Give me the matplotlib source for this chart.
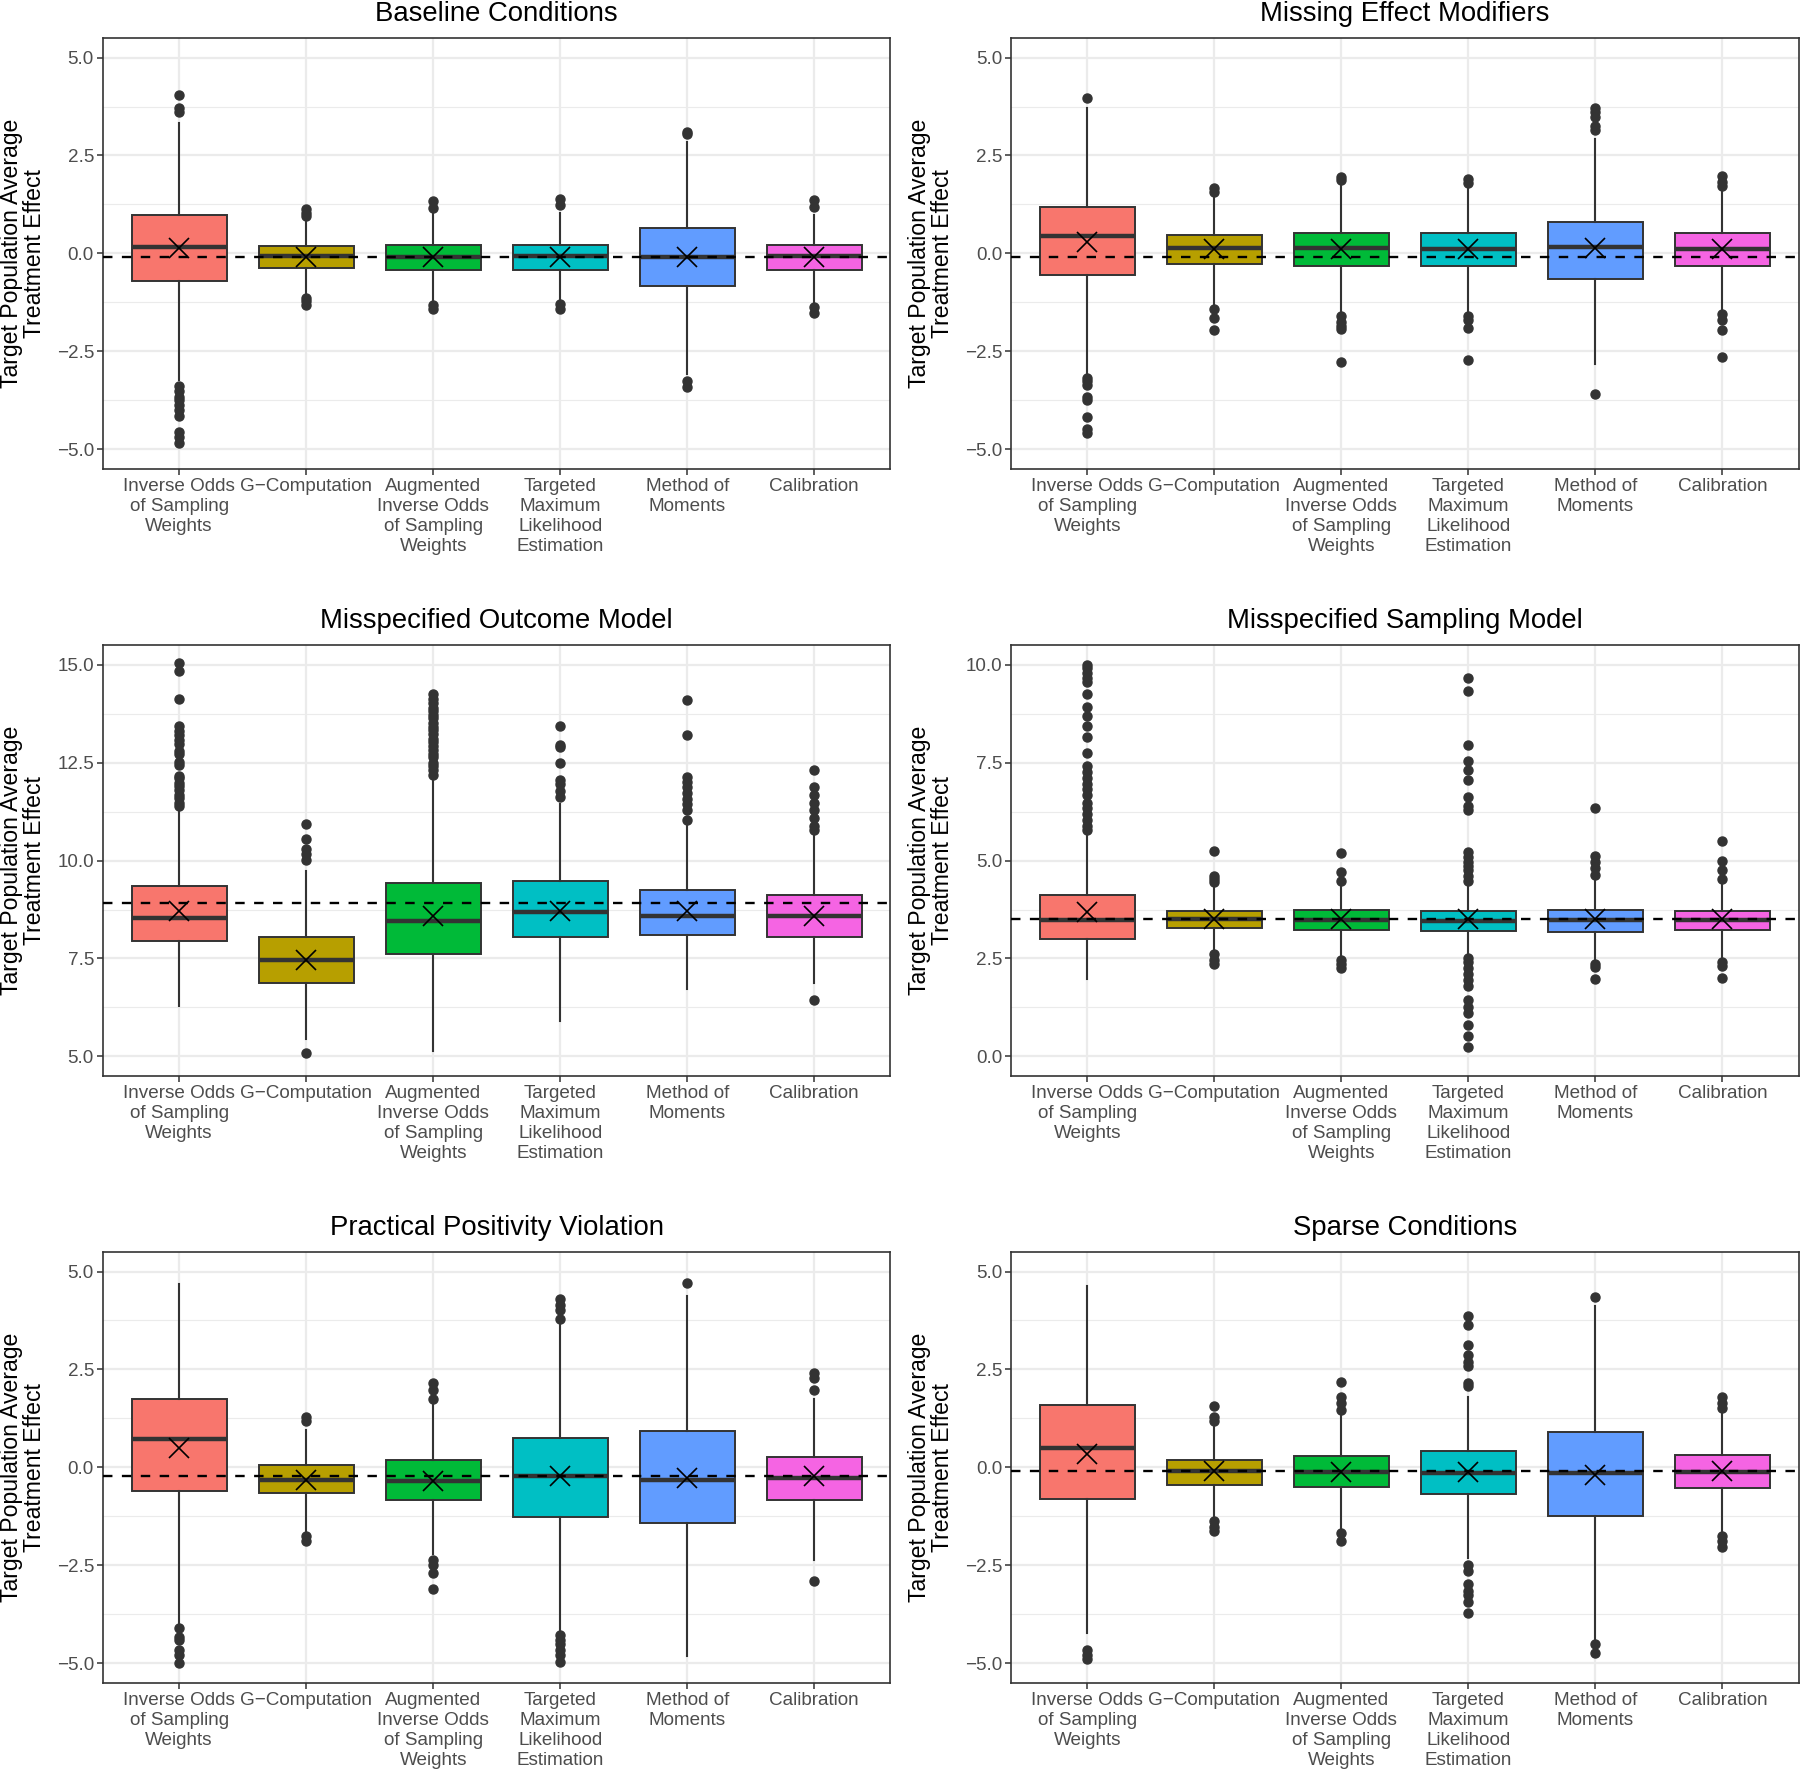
import matplotlib
matplotlib.use("Agg")
import matplotlib.pyplot as plt
from matplotlib.ticker import MultipleLocator, FuncFormatter

plt.rcParams['font.family'] = ['Liberation Sans', 'DejaVu Sans']

titles = ["Baseline Conditions", "Missing Effect Modifiers",
          "Misspecified Outcome Model", "Misspecified Sampling Model",
          "Practical Positivity Violation", "Sparse Conditions"]
methods = ["Inverse Odds\nof Sampling\nWeights", "G\u2212Computation",
           "Augmented\nInverse Odds\nof Sampling\nWeights",
           "Targeted\nMaximum\nLikelihood\nEstimation",
           "Method of\nMoments", "Calibration"]
colors = ["#F8766D", "#B79F00", "#00BA38", "#00BFC4", "#619CFF", "#F564E3"]

# axis ranges (before ggplot-style 5% expansion)
y_range = [(-5, 5), (-5, 5), (5, 15), (0, 10), (-5, 5), (-5, 5)]
truth = [-0.1, -0.1, 8.91, 3.51, -0.21, -0.1]

# one row per panel, one column per method
q1 = [[-0.70, -0.37, -0.41, -0.41, -0.84, -0.41],
      [-0.56, -0.28, -0.33, -0.31, -0.65, -0.31],
      [7.95, 6.88, 7.62, 8.04, 8.09, 8.06],
      [2.99, 3.27, 3.23, 3.20, 3.18, 3.23],
      [-0.61, -0.65, -0.82, -1.26, -1.41, -0.82],
      [-0.80, -0.44, -0.51, -0.68, -1.25, -0.52]]
med = [[0.16, -0.06, -0.09, -0.07, -0.09, -0.07],
       [0.45, 0.13, 0.13, 0.11, 0.16, 0.11],
       [8.54, 7.47, 8.45, 8.69, 8.59, 8.59],
       [3.47, 3.50, 3.47, 3.45, 3.47, 3.47],
       [0.72, -0.31, -0.34, -0.21, -0.31, -0.28],
       [0.50, -0.09, -0.12, -0.15, -0.15, -0.12]]
q3 = [[0.99, 0.19, 0.21, 0.21, 0.65, 0.21],
      [1.18, 0.48, 0.52, 0.52, 0.81, 0.53],
      [9.34, 8.06, 9.43, 9.47, 9.26, 9.13],
      [4.11, 3.72, 3.74, 3.72, 3.74, 3.72],
      [1.74, 0.07, 0.18, 0.76, 0.94, 0.27],
      [1.60, 0.20, 0.30, 0.42, 0.91, 0.31]]
whislo = [[-3.22, -1.08, -1.21, -1.21, -3.07, -1.24],
          [-3.07, -1.31, -1.51, -1.51, -2.81, -1.51],
          [6.30, 5.45, 5.13, 5.91, 6.71, 6.88],
          [1.98, 2.67, 2.52, 2.62, 2.47, 2.52],
          [-3.99, -1.66, -2.22, -4.18, -4.81, -2.36],
          [-4.23, -1.33, -1.61, -2.31, -4.37, -1.71]]
whishi = [[3.33, 0.90, 1.04, 1.04, 2.84, 0.99],
          [3.70, 1.48, 1.77, 1.67, 2.92, 1.67],
          [11.28, 9.72, 12.06, 11.43, 10.89, 10.64],
          [5.69, 4.38, 4.38, 4.38, 4.47, 4.42],
          [4.68, 0.95, 1.60, 3.70, 4.38, 1.74],
          [4.64, 1.04, 1.37, 1.79, 4.12, 1.42]]
means = [[0.13, -0.09, -0.09, -0.09, -0.09, -0.09],
         [0.28, 0.11, 0.11, 0.11, 0.13, 0.11],
         [8.72, 7.47, 8.59, 8.72, 8.72, 8.59],
         [3.69, 3.50, 3.50, 3.50, 3.50, 3.50],
         [0.50, -0.31, -0.35, -0.21, -0.28, -0.21],
         [0.33, -0.09, -0.12, -0.12, -0.19, -0.09]]

# outliers
fl_base = [[4.04, 3.70, 3.61, -3.39, -3.51, -3.66, -3.75, -3.88, -4.0, -4.14, -4.56, -4.68, -4.83],
           [1.13, 1.04, 0.96, -1.13, -1.22, -1.32],
           [1.33, 1.15, -1.31, -1.42],
           [1.38, 1.23, -1.29, -1.42],
           [3.11, 3.04, -3.26, -3.40],
           [1.36, 1.18, -1.36, -1.52]]
fl_mem = [[3.97, -3.17, -3.26, -3.36, -3.66, -3.75, -4.17, -4.47, -4.57],
          [1.67, 1.57, -1.41, -1.65, -1.95],
          [1.96, 1.87, -1.60, -1.75, -1.85, -1.93, -2.78],
          [1.89, 1.79, -1.60, -1.70, -1.90, -2.71],
          [3.72, 3.60, 3.48, 3.24, 3.14, -3.58],
          [1.98, 1.82, 1.72, -1.55, -1.70, -1.95, -2.65]]
fl_mom = [[11.38, 11.47, 11.6, 11.66, 11.79, 11.9, 11.97, 12.1, 12.16, 12.45, 12.52, 12.71,
           12.8, 12.97, 13.08, 13.21, 13.3, 13.43, 14.13, 14.84, 15.04],
          [10.01, 10.16, 10.3, 10.55, 10.94, 5.08],
          [12.18, 12.32, 12.41, 12.49, 12.63, 12.72, 12.81, 12.93, 13.02, 13.11, 13.24, 13.33,
           13.41, 13.52, 13.63, 13.71, 13.82, 13.9, 14.02, 14.11, 14.26],
          [11.62, 11.77, 11.96, 12.06, 12.5, 12.89, 12.96, 13.43],
          [11.04, 11.28, 11.43, 11.57, 11.72, 11.87, 12.01, 12.14, 13.21, 14.09],
          [10.79, 10.89, 11.08, 11.28, 11.47, 11.67, 11.87, 12.30, 6.45]]
fl_msm = [[5.79, 5.89, 6.04, 6.18, 6.33, 6.47, 6.67, 6.82, 6.96, 7.11, 7.26, 7.4, 7.74,
           8.15, 8.43, 8.69, 8.92, 9.26, 9.55, 9.65, 9.79, 9.91, 9.99],
          [4.45, 4.52, 4.60, 5.25, 2.62, 2.47, 2.36],
          [4.47, 4.70, 5.19, 2.47, 2.37, 2.25],
          [4.47, 4.6, 4.75, 4.85, 4.95, 5.1, 5.22, 6.3, 6.38, 6.62, 7.06, 7.3, 7.53, 7.96,
           9.33, 9.65, 2.52, 2.4, 2.25, 2.1, 1.95, 1.79, 1.45, 1.25, 1.10, 0.81, 0.52, 0.24],
          [4.62, 4.81, 4.96, 5.11, 6.33, 2.37, 2.28, 1.98],
          [4.52, 4.77, 4.99, 5.50, 2.42, 2.32, 2.0]]
fl_ppv = [[-4.09, -4.32, -4.41, -4.65, -4.79, -5.0],
          [1.28, 1.18, -1.75, -1.89],
          [2.16, 1.98, 1.74, -2.36, -2.5, -2.69, -3.11],
          [4.31, 4.15, 4.03, 3.8, -4.27, -4.4, -4.51, -4.65, -4.79, -4.97],
          [4.70],
          [2.40, 2.28, 1.98, -2.89]]
fl_sparse = [[-4.65, -4.79, -4.88],
             [1.56, 1.28, 1.18, -1.38, -1.52, -1.61],
             [2.18, 1.79, 1.65, 1.46, -1.68, -1.89],
             [3.86, 3.63, 3.12, 2.86, 2.68, 2.58, 2.16, 2.07, -2.5, -2.64, -2.97, -3.15,
              -3.25, -3.43, -3.71],
             [4.36, -4.51, -4.74],
             [1.79, 1.65, 1.51, -1.75, -1.89, -2.03]]
fliers = [fl_base, fl_mem, fl_mom, fl_msm, fl_ppv, fl_sparse]

dark = "#333333"
fig = plt.figure(figsize=(18, 17.73), dpi=100)

col_left = [0.0572, 0.5617]
row_bottom = [0.7355, 0.3931, 0.0508]
ax_w, ax_h = 0.4375, 0.2431

for p in range(6):
    ax = fig.add_axes([col_left[p % 2], row_bottom[p // 2], ax_w, ax_h])
    stats = []
    for m in range(6):
        stats.append(dict(q1=q1[p][m], med=med[p][m], q3=q3[p][m],
                          whislo=whislo[p][m], whishi=whishi[p][m],
                          fliers=fliers[p][m], mean=means[p][m]))
    bp = ax.bxp(stats, positions=range(1, 7), widths=0.75, patch_artist=True,
                showmeans=False, showcaps=False,
                boxprops=dict(edgecolor=dark, linewidth=1.4),
                medianprops=dict(color=dark, linewidth=3.2, solid_capstyle='butt'),
                whiskerprops=dict(color=dark, linewidth=1.5),
                flierprops=dict(marker='o', markerfacecolor=dark, markeredgecolor=dark,
                                markersize=6.5, linestyle='none'))
    for patch, c in zip(bp['boxes'], colors):
        patch.set_facecolor(c)
    for art in bp['boxes'] + bp['medians'] + bp['whiskers'] + bp['fliers']:
        art.set_zorder(3)

    ax.axhline(truth[p], color='black', linestyle=(0, (4, 4)), linewidth=1.7, zorder=4)
    ax.plot(range(1, 7), means[p], linestyle='none', marker='x', color='black',
            markersize=15, markeredgewidth=1.2, zorder=5)

    lo, hi = y_range[p]
    pad = 0.05 * (hi - lo)
    ax.set_ylim(lo - pad, hi + pad)
    ax.set_xlim(0.4, 6.6)
    ax.yaxis.set_major_locator(MultipleLocator(2.5))
    ax.yaxis.set_minor_locator(MultipleLocator(1.25))
    ax.yaxis.set_major_formatter(FuncFormatter(lambda v, pos: f"{v:.1f}".replace("-", "\u2212")))
    ax.set_xticks(range(1, 7))
    ax.set_xticklabels(methods, fontsize=13.6, color="#4D4D4D", linespacing=1.24)
    ax.tick_params(axis='y', labelsize=13.6, labelcolor="#4D4D4D")
    ax.tick_params(which='major', length=4, width=1.1, color=dark, pad=2.5)
    ax.tick_params(which='minor', length=0)

    ax.grid(which='major', color="#EBEBEB", linewidth=1.6, zorder=0)
    ax.grid(which='minor', axis='y', color="#EBEBEB", linewidth=0.8, zorder=0)
    ax.set_axisbelow(True)
    for s in ax.spines.values():
        s.set_color(dark)
        s.set_linewidth(1.2)

    ax.set_title(titles[p], fontsize=19.8, pad=12)
    ax.set_ylabel("Target Population Average\nTreatment Effect", fontsize=16.6,
                  linespacing=1.0)
    ax.yaxis.set_label_coords(-0.072, 0.5)

fig.savefig("out.png", dpi=100)
